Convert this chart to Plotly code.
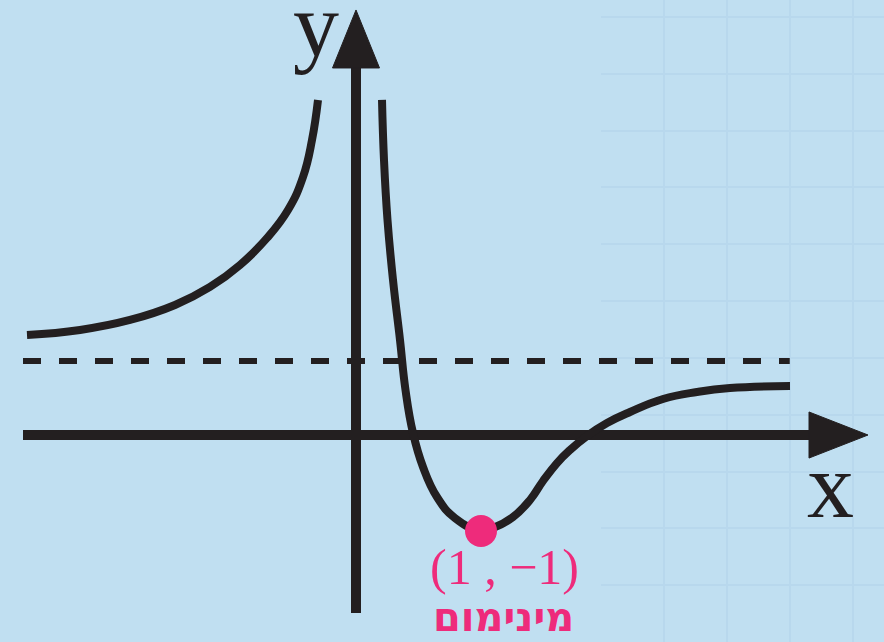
import plotly.graph_objects as go

# Curve branches (x, y in graph units)
left_x = [-2.632, -2.208, -1.808, -1.448, -1.168, -0.928, -0.712, -0.544,
          -0.424, -0.352, -0.304]
left_y = [1.042, 1.094, 1.198, 1.354, 1.542, 1.771, 2.052, 2.344,
          2.688, 3.073, 3.490]

right_x = [0.208, 0.224, 0.252, 0.296, 0.352, 0.396, 0.456, 0.536, 0.648, 0.792,
           1.000, 1.096, 1.256, 1.392, 1.496, 1.608, 1.712, 1.848, 2.008, 2.192,
           2.456, 2.728, 2.992, 3.472]
right_y = [3.490, 2.865, 2.240, 1.615, 0.990, 0.469, 0.021, -0.333, -0.646, -0.865,
           -1.000, -0.969, -0.854, -0.677, -0.479, -0.292, -0.156, -0.010, 0.125, 0.240,
           0.375, 0.448, 0.490, 0.510]

# Horizontal asymptote
asymptote_y = 0.77
asymptote_x = [-2.664, 3.47]

# Minimum point
min_x, min_y = 1.0, -1.0
min_label = "(1 , −1)"
min_caption = "מינימום"

# Axes extents
x_axis_span = [-2.664, 3.65]
x_arrow_tip = 4.096
y_axis_span = [-1.854, 3.84]
y_arrow_tip = 4.427

INK = "#231f20"
PINK = "#ee2b7b"
BG = "#c0dff1"

fig = go.Figure()

# dummy trace that activates the faint squared-paper grid (drawn first)
fig.add_trace(go.Scatter(x=[None], y=[None], xaxis="x", yaxis="y", hoverinfo="skip"))

main = dict(xaxis="x2", yaxis="y2", hoverinfo="skip")

# axis lines
fig.add_trace(go.Scatter(x=x_axis_span, y=[0, 0], mode="lines",
                         line=dict(color=INK, width=10), **main))
fig.add_trace(go.Scatter(x=[0, 0], y=y_axis_span, mode="lines",
                         line=dict(color=INK, width=10), **main))

# arrowheads
xa_base, xa_half = 3.624, 0.24
fig.add_trace(go.Scatter(x=[xa_base, x_arrow_tip, xa_base, xa_base],
                         y=[xa_half, 0, -xa_half, xa_half],
                         mode="lines", fill="toself", fillcolor=INK,
                         line=dict(color=INK, width=1), **main))
ya_base, ya_half = 3.823, 0.188
fig.add_trace(go.Scatter(x=[-ya_half, 0, ya_half, -ya_half],
                         y=[ya_base, y_arrow_tip, ya_base, ya_base],
                         mode="lines", fill="toself", fillcolor=INK,
                         line=dict(color=INK, width=1), **main))

# dashed asymptote
fig.add_trace(go.Scatter(x=asymptote_x, y=[asymptote_y, asymptote_y], mode="lines",
                         line=dict(color=INK, width=6, dash="18px,18px"), **main))

# function branches
for bx, by in ((left_x, left_y), (right_x, right_y)):
    fig.add_trace(go.Scatter(x=bx, y=by, mode="lines",
                             line=dict(color=INK, width=8, shape="spline", smoothing=1.3),
                             **main))

# minimum marker
fig.add_trace(go.Scatter(x=[min_x], y=[min_y], mode="markers",
                         marker=dict(color=PINK, size=32, line=dict(width=0)), **main))

annotations = [
    dict(x=-0.32, y=4.27, text="y", font=dict(family="Liberation Serif", size=92, color=INK)),
    dict(x=3.792, y=-0.52, text="x", font=dict(family="Liberation Serif", size=94, color=INK)),
    dict(x=1.19, y=-1.37, text=min_label,
         font=dict(family="Liberation Serif", size=50, color=PINK)),
    dict(x=1.18, y=-1.9, text="<b>" + min_caption + "</b>",
         font=dict(family="DejaVu Sans", size=40, color=PINK)),
]
for a in annotations:
    a.update(xref="x2", yref="y2", showarrow=False, xanchor="center", yanchor="middle")

fig.update_layout(
    width=884, height=642,
    margin=dict(l=0, r=0, t=0, b=0),
    paper_bgcolor=BG, plot_bgcolor="rgba(0,0,0,0)",
    showlegend=False,
    annotations=annotations,
    # faint squared paper pattern on the right
    xaxis=dict(domain=[0.68, 1], range=[0, 4.5], dtick=1, showgrid=True,
               gridcolor="#b8d8ed", gridwidth=2, zeroline=False,
               showticklabels=False, ticks="", showline=False, fixedrange=True),
    yaxis=dict(domain=[0, 1], range=[0, 11.3], dtick=1, showgrid=True,
               gridcolor="#b8d8ed", gridwidth=2, zeroline=False,
               showticklabels=False, ticks="", showline=False, fixedrange=True),
    xaxis2=dict(domain=[0, 1], range=[-2.848, 4.224], visible=False,
                fixedrange=True, anchor="y2"),
    yaxis2=dict(domain=[0, 1], range=[-2.156, 4.531], visible=False,
                fixedrange=True, anchor="x2"),
)

fig.write_html("out.html")
